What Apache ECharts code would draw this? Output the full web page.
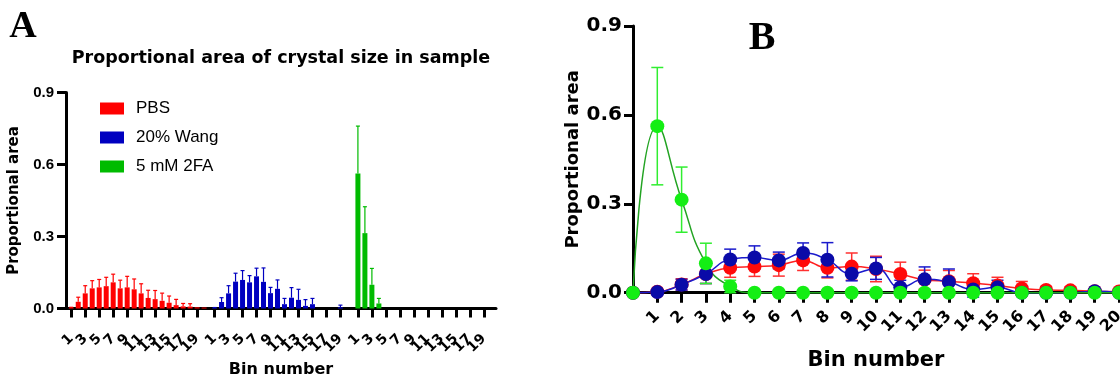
<!DOCTYPE html>
<html><head><meta charset="utf-8">
<script src="https://cdn.jsdelivr.net/npm/echarts@6/dist/echarts.min.js"></script>
<style>html,body{margin:0;padding:0;background:#fff}#c{width:1120px;height:374px}</style>
</head><body><div id="c"></div>
<script>
// ---------- data ----------
const bins = [1,2,3,4,5,6,7,8,9,10,11,12,13,14,15,16,17,18,19,20];
const seriesNames = ['PBS', '20% Wang', '5 mM 2FA'];
const pbsMean  = [0.003,0.028,0.063,0.084,0.088,0.093,0.109,0.084,0.088,0.080,0.063,0.044,0.039,0.032,0.024,0.014,0.009,0.008,0.005,0.004];
const pbsSD    = [0.002,0.019,0.032,0.032,0.033,0.037,0.034,0.034,0.046,0.043,0.040,0.032,0.036,0.032,0.028,0.024,0.012,0.012,0,0];
const wangMean = [0.002,0.027,0.063,0.112,0.119,0.109,0.134,0.111,0.064,0.082,0.018,0.045,0.036,0.011,0.018,0,0,0,0.005,0];
const wangSD   = [0.002,0.018,0.032,0.035,0.039,0.028,0.034,0.058,0.024,0.037,0.024,0.042,0.044,0.026,0.024,0,0,0,0.009,0];
const faMean   = [0.562,0.314,0.099,0.021,0,0,0,0,0,0,0,0,0,0,0,0,0,0,0,0];
const faSD     = [0.198,0.110,0.068,0.021,0,0,0,0,0,0,0,0,0,0,0,0,0,0,0,0];
const originBin = 0, originValue = 0;           // panel B starting point
const yTicks = [0, 0.3, 0.6, 0.9];
const aTickBins = [1,3,5,7,9,11,13,15,17,19];   // labelled bins in panel A
const bTickBins = bins;                          // labelled bins in panel B
const titleA = 'Proportional area of crystal size in sample';
const yName = 'Proportional area';
const xName = 'Bin number';

// ---------- styling / layout ----------
const means = [pbsMean, wangMean, faMean];
const sds = [pbsSD, wangSD, faSD];
const barColors = ['#ff0000', '#0000c0', '#00bb00'];
const lineColors = ['#ff2020', '#1a1acc', '#22a322'];
const markColors = ['#ff0a0a', '#0a0aa8', '#14ee14'];
const errColorsB = ['#ff3030', '#1a1acc', '#30ee30'];
const BOLD = 'DejaVu Sans';
const ARIAL = 'Liberation Sans';

// Panel A category slots: half-bin resolution, one lead slot, 41 slots per group
const SLOTS = 123, LEAD = 1, GROUP_SLOTS = 41;
const slotOf = (g, b) => LEAD + g * GROUP_SLOTS + 2 * (b - 1);
const aCats = [];
for (let i = 0; i < SLOTS; i++) aCats.push('');
const aTickSlots = {};
[0,1,2].forEach(g => aTickBins.forEach(b => { const s = slotOf(g, b); aCats[s] = String(b); aTickSlots[s] = true; }));
const aTickInterval = function (i) { return aTickSlots[i] === true; };
// labels: same slots plus the (empty) first and last slot so the end labels are blanks
const aLabelInterval = function (i) { return aTickSlots[i] === true || i === 0 || i === SLOTS - 1; };

// Panel B categories 0..20
const bCats = [String(originBin)].concat(bins.map(String));
const bTickIdx = {};
bTickBins.forEach(b => { bTickIdx[bCats.indexOf(String(b))] = true; });
const bInterval = function (i) { return bTickIdx[i] === true; };
const bLabelSet = {};
bTickBins.forEach(b => { bLabelSet[String(b)] = true; });

function errRender(capW, twoSided, lw) {
  return function (params, api) {
    const x = api.value(0), m = api.value(1), s = api.value(2);
    if (!(s > 0)) return null;
    const top = api.coord([x, m + s]);
    const mid = api.coord([x, m]);
    const bot = twoSided ? api.coord([x, m - s]) : mid;
    const style = { stroke: api.visual('color'), lineWidth: lw };
    const ch = [
      { type: 'line', shape: { x1: top[0], y1: top[1], x2: bot[0], y2: bot[1] }, style },
      { type: 'line', shape: { x1: top[0] - capW / 2, y1: top[1], x2: top[0] + capW / 2, y2: top[1] }, style }
    ];
    if (twoSided) ch.push({ type: 'line', shape: { x1: bot[0] - capW / 2, y1: bot[1], x2: bot[0] + capW / 2, y2: bot[1] }, style });
    return { type: 'group', children: ch };
  };
}

const series = [];
// Panel A bars
[0,1,2].forEach(g => {
  const d = aCats.map(() => null);
  bins.forEach((b, i) => { d[slotOf(g, b)] = means[g][i]; });
  series.push({
    name: seriesNames[g], type: 'bar', xAxisIndex: 0, yAxisIndex: 0,
    barWidth: 5, barGap: '-100%',
    itemStyle: { color: barColors[g] },
    data: d, z: 2
  });
});
[0,1,2].forEach(g => {
  series.push({
    name: 'errA' + g, type: 'custom', xAxisIndex: 0, yAxisIndex: 0,
    itemStyle: { color: barColors[g] },
    renderItem: errRender(4, false, 1.2),
    encode: { x: 0, y: 1 },
    data: bins.map((b, i) => [slotOf(g, b), means[g][i], sds[g][i]]),
    z: 3
  });
});
// Panel B lines with error bars
[0,1,2].forEach(g => {
  series.push({
    name: 'errB' + g, type: 'custom', xAxisIndex: 1, yAxisIndex: 1,
    itemStyle: { color: errColorsB[g] },
    renderItem: errRender(12, true, 1.5),
    encode: { x: 0, y: 1 },
    data: bins.map((b, i) => [b, means[g][i], sds[g][i]]),
    z: 3
  });
  series.push({
    name: 'B ' + seriesNames[g], type: 'line', xAxisIndex: 1, yAxisIndex: 1,
    smooth: 0.5, symbol: 'circle', symbolSize: 14, clip: false,
    lineStyle: { color: lineColors[g], width: 1.5 },
    itemStyle: { color: markColors[g] },
    data: [originValue].concat(means[g]),
    z: 3
  });
});

const yAxisCommon = {
  type: 'value', min: yTicks[0], max: yTicks[yTicks.length - 1], interval: yTicks[1] - yTicks[0],
  splitLine: { show: false },
  axisLine: { show: true, lineStyle: { color: '#000', width: 3 } },
  axisTick: { show: true, length: 9, lineStyle: { color: '#000', width: 3 } },
  nameLocation: 'middle'
};

const option = {
  animation: false,
  legend: {
    data: seriesNames.map(n => ({ name: n, icon: 'rect' })),
    orient: 'vertical', left: 100, top: 100, padding: 0,
    itemWidth: 24, itemHeight: 12, itemGap: 12,
    textStyle: { fontFamily: ARIAL, fontSize: 17, color: '#000', padding: [0,0,0,7] },
    selectedMode: false
  },
  graphic: [
    { type: 'text', x: 23, y: 27, style: { text: 'A', font: 'bold 38px "Liberation Serif"', fill: '#000', align: 'center', verticalAlign: 'middle' } },
    { type: 'text', x: 762, y: 39, style: { text: 'B', font: 'bold 40px "Liberation Serif"', fill: '#000', align: 'center', verticalAlign: 'middle' } },
    { type: 'text', x: 281, y: 58, style: { text: titleA, font: 'bold 17.5px "DejaVu Sans"', fill: '#000', align: 'center', verticalAlign: 'middle' } }
  ],
  grid: [
    { left: 66, top: 92.5, width: 430, height: 216, containLabel: false, outerBoundsMode: 'none' },
    { left: 633, top: 26, width: 486, height: 266.7, containLabel: false, outerBoundsMode: 'none' }
  ],
  xAxis: [
    {
      type: 'category', gridIndex: 0, data: aCats, boundaryGap: true,
      splitLine: { show: false },
      axisLine: { show: true, onZero: false, lineStyle: { color: '#000', width: 3 } },
      axisTick: { show: true, inside: false, alignWithLabel: true, interval: aTickInterval, length: 9, lineStyle: { color: '#000', width: 3 } },
      axisLabel: { interval: aLabelInterval, hideOverlap: false,
        rotate: 45, margin: 28, lineHeight: 8, fontFamily: BOLD, fontWeight: 'bold', fontSize: 14, color: '#000' },
      name: xName, nameLocation: 'middle', nameGap: 50,
      nameTextStyle: { fontFamily: BOLD, fontWeight: 'bold', fontSize: 16, color: '#000' }
    },
    {
      type: 'category', gridIndex: 1, data: bCats, boundaryGap: false,
      splitLine: { show: false },
      axisLine: { show: true, onZero: false, lineStyle: { color: '#000', width: 3 } },
      axisTick: { show: true, inside: false, interval: bInterval, length: 10, lineStyle: { color: '#000', width: 3 } },
      axisLabel: { interval: bInterval, showMinLabel: true, showMaxLabel: true, hideOverlap: false,
        formatter: v => (bLabelSet[v] ? v : ''),
        rotate: 45, margin: 21, lineHeight: 12, fontFamily: BOLD, fontWeight: 'bold', fontSize: 16, color: '#000' },
      name: xName, nameLocation: 'middle', nameGap: 57,
      nameTextStyle: { fontFamily: BOLD, fontWeight: 'bold', fontSize: 21, color: '#000' }
    }
  ],
  yAxis: [
    Object.assign({}, yAxisCommon, {
      gridIndex: 0,
      axisLabel: { margin: 12, fontFamily: ARIAL, fontWeight: 'bold', fontSize: 15, color: '#000', formatter: v => v.toFixed(1) },
      name: yName, nameGap: 44,
      nameTextStyle: { fontFamily: BOLD, fontWeight: 'bold', fontSize: 15, color: '#000' }
    }),
    Object.assign({}, yAxisCommon, {
      gridIndex: 1,
      axisLabel: { margin: 11, fontFamily: BOLD, fontWeight: 'bold', fontSize: 20, color: '#000', formatter: v => v.toFixed(1) },
      name: yName, nameGap: 26,
      nameTextStyle: { fontFamily: BOLD, fontWeight: 'bold', fontSize: 18, color: '#000' }
    })
  ],
  series: series
};

const chart = echarts.init(document.getElementById('c'), null, { renderer: 'canvas' });
chart.setOption(option);
</script>
</body></html>
